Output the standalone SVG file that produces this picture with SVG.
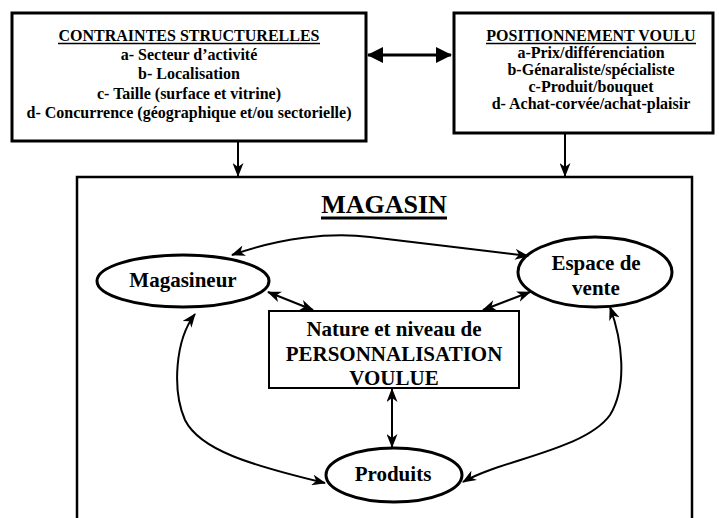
<svg xmlns="http://www.w3.org/2000/svg" width="719" height="518" viewBox="0 0 719 518">
<style>
text{font-family:"Liberation Serif","Times New Roman",serif;font-weight:bold;fill:#000;text-anchor:middle}
.top{font-size:16px}
.node{font-size:21px}
.frame{fill:#fff;stroke:#000;stroke-width:3}
.ell{fill:#fff;stroke:#000;stroke-width:3}
.con{fill:none;stroke:#000;stroke-width:2}
</style>
<defs>
<marker id="st" viewBox="0 0 14 11" refX="13" refY="5.5" markerWidth="14" markerHeight="11" markerUnits="userSpaceOnUse" orient="auto-start-reverse">
<path d="M0,0 L14,5.5 L0,11 L4,5.5 z" fill="#000"/>
</marker>
<marker id="tri" viewBox="0 0 16 16" refX="15" refY="8" markerWidth="16" markerHeight="16" markerUnits="userSpaceOnUse" orient="auto-start-reverse">
<path d="M0,0 L16,8 L0,16 z" fill="#000"/>
</marker>
</defs>
<rect width="719" height="518" fill="#fff"/>
<g id="magasin">
<rect x="77" y="177" width="615" height="360" fill="#fff" stroke="#000" stroke-width="2.5"/>
<text x="384" y="213" style="font-size:26px">MAGASIN</text>
<line x1="321" y1="218" x2="447" y2="218" stroke="#000" stroke-width="3"/>
</g>
<g id="contraintes">
<rect class="frame" x="12" y="13" width="354" height="128"/>
<text class="top" x="189" y="41">CONTRAINTES STRUCTURELLES</text>
<line x1="58" y1="43.5" x2="320" y2="43.5" stroke="#000" stroke-width="1.5"/>
<text class="top" x="189" y="60">a- Secteur d’activité</text>
<text class="top" x="189" y="79">b- Localisation</text>
<text class="top" x="189" y="98.5">c- Taille (surface et vitrine)</text>
<text class="top" x="189" y="118">d- Concurrence (géographique et/ou sectorielle)</text>
</g>
<g id="positionnement">
<rect class="frame" x="454" y="13" width="259" height="120"/>
<text class="top" x="591" y="41">POSITIONNEMENT VOULU</text>
<line x1="486" y1="43.5" x2="696" y2="43.5" stroke="#000" stroke-width="1.5"/>
<text class="top" x="591" y="58">a-Prix/différenciation</text>
<text class="top" x="591" y="75">b-Génaraliste/spécialiste</text>
<text class="top" x="591" y="92">c-Produit/bouquet</text>
<text class="top" x="591" y="109">d- Achat-corvée/achat-plaisir</text>
</g>
<g id="magasineur">
<ellipse class="ell" cx="183" cy="281" rx="86" ry="26"/>
<text class="node" x="183" y="287">Magasineur</text>
</g>
<g id="espace">
<ellipse class="ell" cx="595" cy="272" rx="77" ry="35"/>
<text class="node" x="596" y="270">Espace de</text>
<text class="node" x="596" y="295">vente</text>
</g>
<g id="personnalisation">
<rect x="269" y="311" width="250" height="77" fill="#fff" stroke="#000" stroke-width="2"/>
<text class="node" x="394" y="336">Nature et niveau de</text>
<text class="node" x="394" y="361">PERSONNALISATION</text>
<text class="node" x="394" y="385">VOULUE</text>
</g>
<g id="produits">
<ellipse class="ell" cx="394" cy="475" rx="68" ry="27"/>
<text class="node" x="393" y="481">Produits</text>
</g>
<g id="connectors">
<line x1="368" y1="55" x2="451" y2="55" stroke="#000" stroke-width="3" marker-start="url(#tri)" marker-end="url(#tri)"/>
<line class="con" x1="238" y1="141" x2="238" y2="176" marker-end="url(#st)"/>
<line class="con" x1="565" y1="134" x2="565" y2="176" marker-end="url(#st)"/>
<path class="con" d="M232,255 C280,238 330,232 370,237 S490,251 528,256" marker-start="url(#st)" marker-end="url(#st)"/>
<path class="con" d="M195,314 C175,340 172,390 185,420 C200,450 250,465 325,483" marker-start="url(#st)" marker-end="url(#st)"/>
<path class="con" d="M610,307 C622,340 628,385 610,415 C585,450 500,460 463,482" marker-start="url(#st)" marker-end="url(#st)"/>
<line class="con" x1="268" y1="292" x2="313" y2="310" marker-start="url(#st)" marker-end="url(#st)"/>
<line class="con" x1="530" y1="292" x2="483" y2="310" marker-start="url(#st)" marker-end="url(#st)"/>
<line class="con" x1="392" y1="389" x2="392" y2="447" marker-start="url(#st)" marker-end="url(#st)"/>
</g>
</svg>
